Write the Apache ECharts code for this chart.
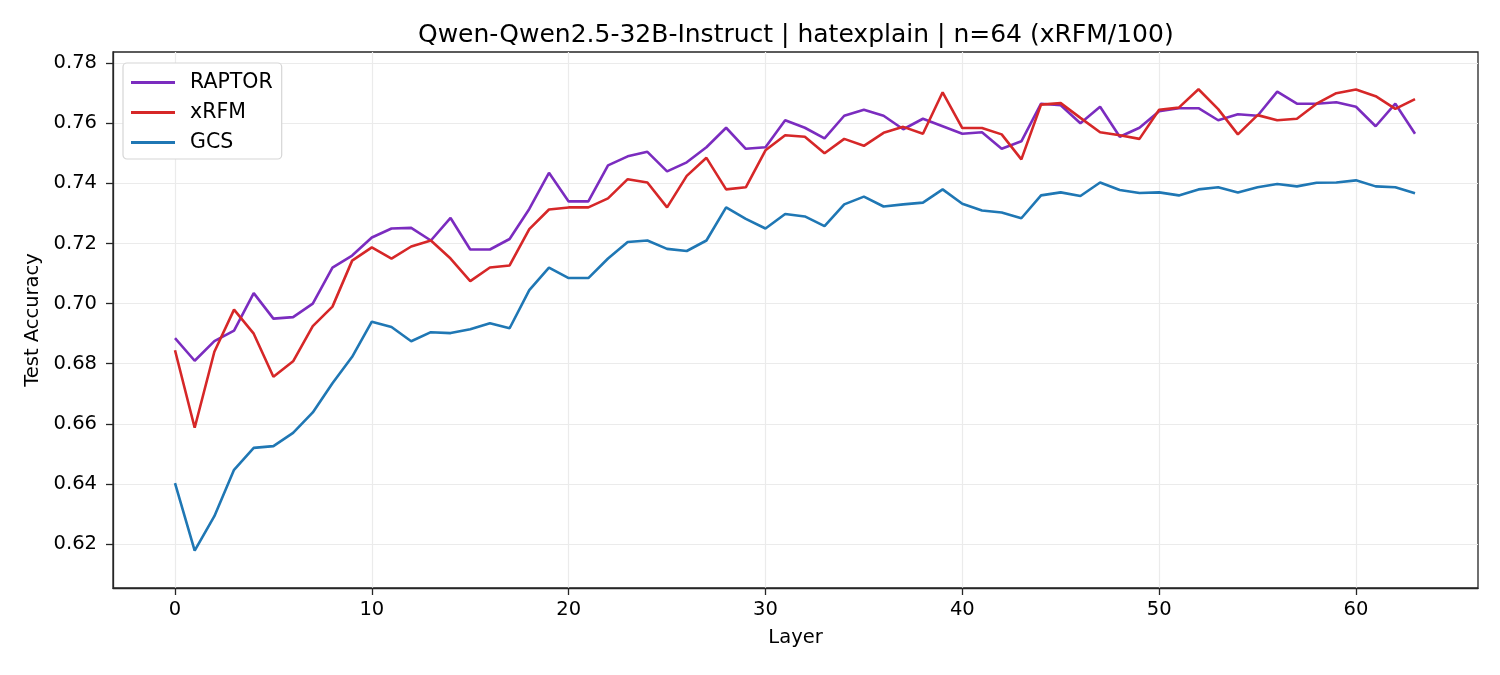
<!DOCTYPE html>
<html>
<head>
<meta charset="utf-8">
<script src="https://cdn.jsdelivr.net/npm/echarts@6/dist/echarts.min.js"></script>
<style>html,body{margin:0;padding:0;background:#fff;}#c{width:1500px;height:675px;}</style>
</head>
<body>
<div id="c"></div>
<script>
const layers = Array.from({length: 64}, (_, i) => i);
const raptor = [0.6885,0.681,0.6875,0.691,0.7035,0.695,0.6955,0.700,0.712,0.716,0.722,0.725,0.7252,0.721,0.7285,0.718,0.718,0.7215,0.7315,0.7435,0.734,0.734,0.746,0.749,0.7505,0.744,0.747,0.752,0.7585,0.7515,0.752,0.761,0.7585,0.755,0.7625,0.7645,0.7625,0.758,0.7615,0.759,0.7565,0.757,0.7515,0.754,0.7665,0.766,0.760,0.7655,0.7555,0.7585,0.764,0.765,0.765,0.761,0.763,0.7625,0.7705,0.7665,0.7665,0.767,0.7655,0.759,0.7665,0.7565];
const xrfm = [0.6845,0.6587,0.684,0.698,0.690,0.6757,0.6808,0.6925,0.699,0.7143,0.7187,0.715,0.719,0.721,0.715,0.7075,0.712,0.7127,0.7248,0.7313,0.732,0.732,0.735,0.7414,0.7403,0.732,0.7425,0.7485,0.738,0.7387,0.751,0.756,0.7555,0.750,0.7548,0.7525,0.7568,0.7588,0.7565,0.7703,0.7584,0.7584,0.7563,0.748,0.7662,0.7667,0.7618,0.757,0.756,0.7548,0.7645,0.7652,0.7713,0.7647,0.7563,0.7627,0.761,0.7615,0.7665,0.770,0.7712,0.769,0.7648,0.768];
const gcs = [0.6403,0.6178,0.6293,0.6447,0.652,0.6526,0.657,0.6638,0.6735,0.6823,0.694,0.6922,0.6875,0.6905,0.6902,0.6915,0.6935,0.6918,0.7045,0.712,0.7085,0.7085,0.715,0.7205,0.721,0.7182,0.7175,0.721,0.732,0.7282,0.725,0.7298,0.729,0.7258,0.733,0.7356,0.7323,0.733,0.7336,0.738,0.7332,0.731,0.7303,0.7284,0.736,0.737,0.7358,0.7403,0.7378,0.7368,0.737,0.736,0.738,0.7387,0.737,0.7387,0.7398,0.739,0.7402,0.7403,0.741,0.739,0.7387,0.7367];
const xTicks = [0, 10, 20, 30, 40, 50, 60];
const yTicks = [0.62, 0.64, 0.66, 0.68, 0.70, 0.72, 0.74, 0.76, 0.78];

const font = 'DejaVu Sans';
const fs = 19.5;
const axisColor = '#262626';
const pair = arr => arr.map((v, i) => [layers[i], v]);
const chart = echarts.init(document.getElementById('c'), null, {renderer: 'canvas'});
chart.setOption({
  animation: false,
  backgroundColor: '#fff',
  title: {
    text: 'Qwen-Qwen2.5-32B-Instruct | hatexplain | n=64 (xRFM/100)',
    left: 413, top: 18,
    textStyle: {fontFamily: font, fontSize: 25, fontWeight: 'normal', color: '#000'}
  },
  legend: {
    orient: 'vertical', left: 123, top: 63,
    icon: 'rect', itemWidth: 44, itemHeight: 3, itemGap: 9,
    padding: [9, 9, 6, 8],
    backgroundColor: '#fff', borderColor: '#d6d6d6', borderWidth: 1.2, borderRadius: 4,
    textStyle: {fontFamily: font, fontSize: 20.5, color: '#000', lineHeight: 20, padding: [0, 0, 0, 10]},
    data: ['RAPTOR', 'xRFM', 'GCS']
  },
  grid: {left: 113, right: 22, top: 52, bottom: 87, show: true, borderColor: axisColor, borderWidth: 1.3, containLabel: false},
  xAxis: {
    type: 'value', min: -3.15, max: 66.2,
    name: 'Layer', nameLocation: 'middle', nameGap: 40,
    nameTextStyle: {fontFamily: font, fontSize: fs, color: '#000'},
    axisLine: {show: true, onZero: false, lineStyle: {color: axisColor, width: 1.3}},
    axisTick: {show: true, length: 7, lineStyle: {color: axisColor, width: 1.3}, customValues: xTicks},
    axisLabel: {fontFamily: font, fontSize: fs, color: '#000', margin: 12, customValues: xTicks},
    splitLine: {show: true, lineStyle: {color: '#ebebeb', width: 1.2}}
  },
  yAxis: {
    type: 'value', min: 0.6054, max: 0.7837,
    name: 'Test Accuracy', nameLocation: 'middle', nameGap: 70, nameRotate: 90,
    nameTextStyle: {fontFamily: font, fontSize: fs, color: '#000'},
    axisLine: {show: true, onZero: false, lineStyle: {color: axisColor, width: 1.3}},
    axisTick: {show: true, length: 7, lineStyle: {color: axisColor, width: 1.3}, customValues: yTicks},
    axisLabel: {fontFamily: font, fontSize: fs, color: '#000', margin: 16, customValues: yTicks,
      formatter: v => v.toFixed(2)},
    splitLine: {show: true, lineStyle: {color: '#ebebeb', width: 1.2}}
  },
  series: [
    {name: 'RAPTOR', type: 'line', data: pair(raptor), symbol: 'none', lineStyle: {color: '#7b2cbf', width: 2.6}, itemStyle: {color: '#7b2cbf'}},
    {name: 'xRFM', type: 'line', data: pair(xrfm), symbol: 'none', lineStyle: {color: '#d62728', width: 2.6}, itemStyle: {color: '#d62728'}},
    {name: 'GCS', type: 'line', data: pair(gcs), symbol: 'none', lineStyle: {color: '#1f77b4', width: 2.6}, itemStyle: {color: '#1f77b4'}}
  ]
});
</script>
</body>
</html>
